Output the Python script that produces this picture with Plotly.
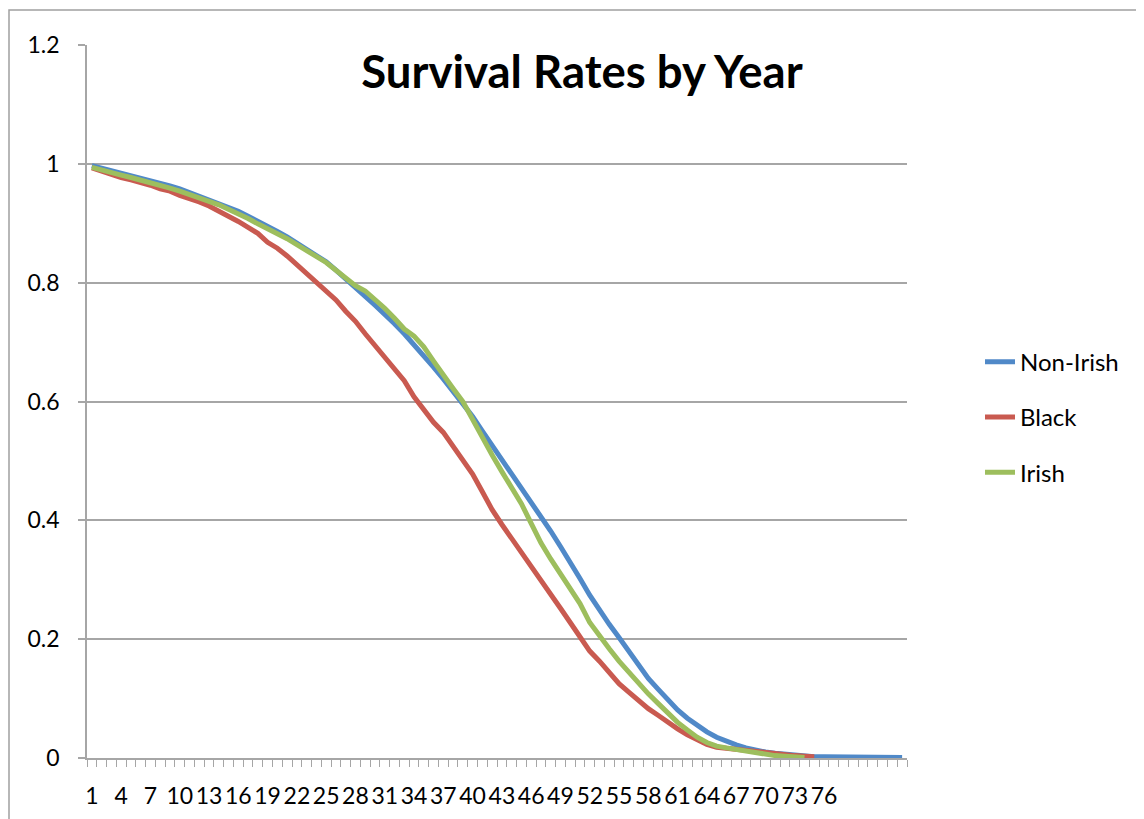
import plotly.graph_objects as go

years = list(range(1, 85))
tick_labels = [str(v) for v in range(1, 77, 3)]

non_irish = [0.997, 0.993, 0.989, 0.985, 0.981, 0.977, 0.973, 0.968, 0.963, 0.958,
             0.952, 0.946, 0.940, 0.934, 0.927, 0.920, 0.912, 0.904, 0.895, 0.886,
             0.877, 0.867, 0.857, 0.846, 0.835, 0.821, 0.807, 0.792, 0.777, 0.762,
             0.747, 0.731, 0.714, 0.696, 0.677, 0.658, 0.638, 0.618, 0.597, 0.575,
             0.550, 0.526, 0.503, 0.480, 0.456, 0.432, 0.407, 0.382, 0.356, 0.330,
             0.302, 0.274, 0.249, 0.225, 0.203, 0.180, 0.157, 0.134, 0.116, 0.097,
             0.081, 0.067, 0.055, 0.044, 0.035, 0.028, 0.022, 0.017, 0.013, 0.010,
             0.008, 0.006, 0.004, 0.003, 0.002, 0.002, 0.002, 0.001, 0.001, 0.001,
             0.001, 0.001, 0.001, 0.001]

black = [0.993, 0.987, 0.982, 0.977, 0.973, 0.969, 0.964, 0.958, 0.954, 0.947,
         0.942, 0.936, 0.929, 0.921, 0.912, 0.903, 0.893, 0.883, 0.868, 0.858,
         0.845, 0.830, 0.815, 0.800, 0.785, 0.771, 0.752, 0.735, 0.714, 0.695,
         0.673, 0.655, 0.635, 0.608, 0.585, 0.565, 0.548, 0.525, 0.503, 0.478,
         0.448, 0.418, 0.393, 0.370, 0.345, 0.322, 0.298, 0.275, 0.252, 0.228,
         0.205, 0.180, 0.163, 0.143, 0.125, 0.111, 0.096, 0.083, 0.072, 0.060,
         0.049, 0.039, 0.030, 0.023, 0.018, 0.016, 0.014, 0.012, 0.010, 0.009,
         0.008, 0.006, 0.004, 0.003, 0.002]

irish = [0.994, 0.989, 0.985, 0.981, 0.977, 0.973, 0.968, 0.963, 0.959, 0.954,
         0.949, 0.943, 0.937, 0.931, 0.924, 0.916, 0.908, 0.899, 0.891, 0.883,
         0.874, 0.864, 0.854, 0.844, 0.834, 0.821, 0.808, 0.795, 0.786, 0.772,
         0.757, 0.740, 0.722, 0.710, 0.692, 0.668, 0.644, 0.622, 0.600, 0.570,
         0.537, 0.510, 0.482, 0.455, 0.428, 0.395, 0.362, 0.335, 0.310, 0.285,
         0.260, 0.228, 0.205, 0.184, 0.163, 0.145, 0.124, 0.108, 0.092, 0.075,
         0.060, 0.047, 0.035, 0.026, 0.020, 0.017, 0.014, 0.012, 0.009, 0.006,
         0.004, 0.003, 0.002, 0.001]

series = [
    ("Non-Irish", non_irish, "#5089C8"),
    ("Black", black, "#C95A50"),
    ("Irish", irish, "#9DBE5D"),
]

FONT = "Lato"
GRID = "#A6A6A6"

W, H = 1136, 811          # page body has an 8px margin
PL, PR, PT, PB = 79, 237, 37, 61
PW = W - PL - PR          # 820
PH = H - PT - PB          # 713

fig = go.Figure()
for name, vals, color in series:
    fig.add_trace(go.Scatter(
        x=years[:len(vals)], y=vals, name=name, mode="lines",
        line=dict(color=color, width=5), legendgroup=name,
    ))

fig.update_layout(
    width=W, height=H,
    margin=dict(l=PL, r=PR, t=PT, b=PB, autoexpand=False),
    paper_bgcolor="white", plot_bgcolor="white",
    font=dict(family=FONT, size=23, color="black"),
    title=dict(text="<b>Survival Rates by Year</b>", font=dict(family=FONT, size=45.5, color="black"),
               x=(574 - PL) / PW, xref="paper", xanchor="center",
               y=1 - 64 / H, yref="container", yanchor="middle"),
    showlegend=True,
    legend=dict(x=(972 - PL) / PW, xanchor="left", y=0.478, yanchor="middle",
                font=dict(family=FONT, size=24, color="black"),
                traceorder="grouped", tracegroupgap=21, bgcolor="rgba(0,0,0,0)"),
    xaxis=dict(range=[0.5, 84.5], tickmode="array", tickvals=list(range(1, 77, 3)),
               ticktext=tick_labels, ticks="", showgrid=False, zeroline=False,
               showline=True, linecolor=GRID, linewidth=1.5,
               ticklabelstandoff=17, automargin=False,
               minor=dict(ticks="outside", tick0=0.5, dtick=1, ticklen=7,
                          tickcolor=GRID, tickwidth=1.2, showgrid=False),
               fixedrange=True),
    yaxis=dict(range=[0, 1.2], tickmode="linear", tick0=0, dtick=0.2,
               ticks="outside", ticklen=7, tickcolor=GRID, tickwidth=1.5,
               showgrid=True, gridcolor=GRID, gridwidth=1.5, zeroline=False,
               showline=True, linecolor=GRID, linewidth=1.5,
               ticklabelstandoff=14, automargin=False, fixedrange=True),
)

# outer chart-area frame
fig.add_shape(type="rect", xref="paper", yref="paper",
              x0=(1 - PL) / PW, x1=(1131 - PL) / PW,
              y0=(PT + PH - 830) / PH, y1=(PT + PH - 2) / PH,
              line=dict(color="#A0A0A0", width=1.5), fillcolor="rgba(0,0,0,0)", layer="below")

fig.write_html("out.html")
